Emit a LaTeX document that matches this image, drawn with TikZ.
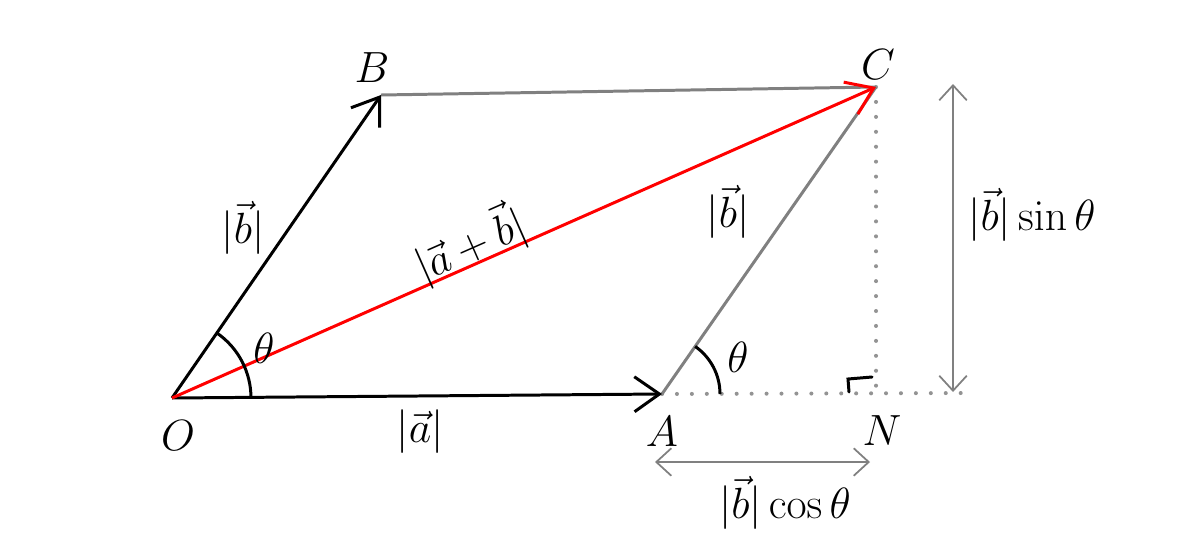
\documentclass[tikz,border=0pt]{standalone}
\usetikzlibrary{arrows.meta}
\begin{document}
\begin{tikzpicture}[x=0.02cm,y=-0.02cm,
  vec/.style={line width=1.7pt, -{Straight Barb[length=5mm,width=7mm,line width=1.7pt]}},
  gline/.style={line width=1.7pt, draw=gray},
  dots/.style={line width=2.3pt, draw=gray!85, line cap=round, dash pattern=on 0pt off 8.5pt},
  dim/.style={line width=1pt, draw=gray, {Straight Barb[length=3mm,width=5.5mm]}-{Straight Barb[length=3mm,width=5.5mm]}},
  lbl/.style={font=\fontsize{23}{27}\selectfont, inner sep=1pt},
  ang/.style={line width=1.7pt}]
\useasboundingbox (0,0) rectangle (1202,548);
\coordinate (O) at (172,398);
\coordinate (A) at (662,394);
\coordinate (B) at (381,95);
\coordinate (C) at (876,87);
\coordinate (N) at (876,394);
\coordinate (E) at (970,393);
\coordinate (S1) at (953,84);
\coordinate (S2) at (953,392);
\coordinate (H1) at (655,462);
\coordinate (H2) at (870,462);
% dotted lines
\draw[dots] (A) -- (E);
\draw[dots] (C) -- (N);
% gray sides
\draw[gline] (B) -- (C);
\draw[gline] (A) -- (C);
% black vectors
\draw[vec] (O) -- (B);
\draw[vec] (O) -- (A);
% red resultant
\draw[vec, draw=red] (O) -- (C);
% angle arcs
\draw[ang] (O) ++(0:79) arc[start angle=0, end angle=-55.4, radius=79];
\draw[ang] (A) ++(0:58) arc[start angle=0, end angle=-55.1, radius=58];
% right angle mark
\draw[ang, line cap=round] (849,392) -- (848,379) -- (872,377);
% dimension arrows
\draw[dim] (S1) -- (S2);
\draw[dim] (H1) -- (H2);
% labels
\node[lbl] (lB) at (372,68) {$B$};
\node[lbl] (lC) at (878,65) {$C$};
\node[lbl] (lO) at (178,436) {$O$};
\node[lbl] (lA) at (662,432) {$A$};
\node[lbl] (lN) at (882,431) {$N$};
\node[lbl] (lOB) at (243,228) {$|\vec{b}|$};
\node[lbl, rotate=23.8] (lOC) at (470,244) {$|\vec{a}+\vec{b}|$};
\node[lbl] (lAC) at (728,212) {$|\vec{b}|$};
\node[lbl] (lsin) at (1032,215) {$|\vec{b}|\sin\theta$};
\node[lbl] (lOA) at (420,432) {$|\vec{a}|$};
\node[lbl] (lcos) at (785,503) {$|\vec{b}|\cos\theta$};
\node[lbl] (t1) at (264,348) {$\theta$};
\node[lbl] (t2) at (738,357) {$\theta$};
\end{tikzpicture}
\end{document}
